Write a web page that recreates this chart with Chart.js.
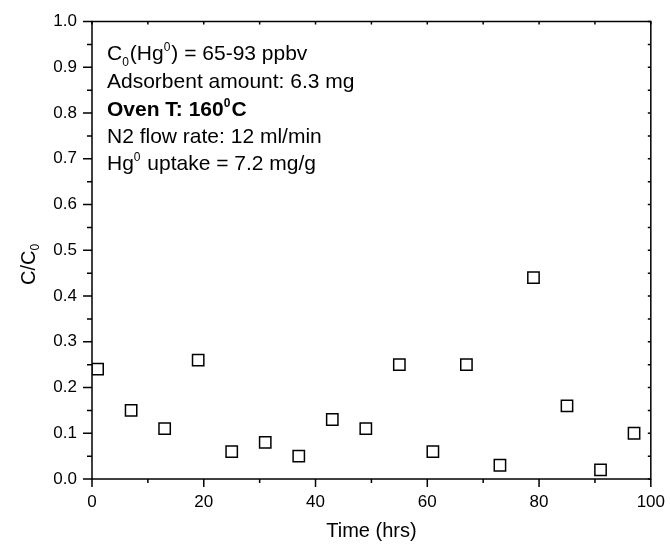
<!DOCTYPE html>
<html><head><meta charset="utf-8">
<script src="https://cdn.jsdelivr.net/npm/chart.js@4/dist/chart.umd.min.js"></script>
<style>html,body{margin:0;padding:0;background:#fff}</style>
</head><body>
<canvas id="c" width="670" height="545"></canvas>
<script>
// ---- data ----
const timeHrs  = [1, 7, 13, 19, 25, 31, 37, 43, 49, 55, 61, 67, 73, 79, 85, 91, 97];
const ratioCC0 = [0.24, 0.15, 0.11, 0.26, 0.06, 0.08, 0.05, 0.13, 0.11, 0.25, 0.06, 0.25, 0.03, 0.44, 0.16, 0.02, 0.10];
const xRange = [0, 100];
const yRange = [0, 1.0];
const xMajorStep = 20, xMinorStep = 10;
const yMajorStep = 0.1, yMinorStep = 0.05;
const xTitle = 'Time (hrs)';
const yTitle = ['C/C', '0'];
// annotation text: [text, kind] kind: n normal, sub, sup ; bold flag per line
const annotationLines = [
  {bold:false, parts:[['C','n'],['0','sub'],['(Hg','n'],['0','sup'],[') = 65-93 ppbv','n']]},
  {bold:false, parts:[['Adsorbent amount: 6.3 mg','n']]},
  {bold:true,  parts:[['Oven T: 160','n'],['0','sup'],['C','n']]},
  {bold:false, parts:[['N2 flow rate: 12 ml/min','n']]},
  {bold:false, parts:[['Hg','n'],['0','sup'],[' uptake = 7.2 mg/g','n']]}
];

const FONT = '"Liberation Sans", Arial, Helvetica, sans-serif';

const framePlugin = {
  id: 'frame',
  afterDraw(chart) {
    const ctx = chart.ctx;
    const {left, right, top, bottom} = chart.chartArea;
    const xs = chart.scales.x, ys = chart.scales.y;
    ctx.save();
    ctx.strokeStyle = '#000';
    ctx.lineWidth = 1.5;
    ctx.strokeRect(left, top, right - left, bottom - top);
    ctx.beginPath();
    // x ticks
    for (let v = xRange[0]; v <= xRange[1] + 1e-9; v += xMinorStep) {
      const px = xs.getPixelForValue(v);
      const major = Math.abs(v / xMajorStep - Math.round(v / xMajorStep)) < 1e-6;
      const len = major ? 8 : 4;
      ctx.moveTo(px, bottom); ctx.lineTo(px, bottom + len);
      ctx.moveTo(px, top); ctx.lineTo(px, top + 3);
    }
    // y ticks
    for (let i = 0; i <= Math.round((yRange[1] - yRange[0]) / yMinorStep); i++) {
      const v = yRange[0] + i * yMinorStep;
      const py = ys.getPixelForValue(v);
      const major = i % 2 === 0;
      const len = major ? 9 : 5;
      ctx.moveTo(left, py); ctx.lineTo(left - len, py);
      ctx.moveTo(right, py); ctx.lineTo(right - 3, py);
    }
    ctx.stroke();

    // y title with subscript
    ctx.fillStyle = '#000';
    ctx.translate(35, 285);
    ctx.rotate(-Math.PI / 2);
    ctx.textBaseline = 'alphabetic';
    ctx.textAlign = 'left';
    ctx.font = '20px ' + FONT;
    ctx.fillText(yTitle[0], 0, 0);
    const w = ctx.measureText(yTitle[0]).width;
    ctx.font = '12px ' + FONT;
    ctx.fillText(yTitle[1], w, 4);
    ctx.restore();

    // annotation block
    ctx.save();
    ctx.fillStyle = '#000';
    ctx.textBaseline = 'alphabetic';
    ctx.textAlign = 'left';
    const baselines = [60, 88, 116, 143, 170];
    annotationLines.forEach((line, li) => {
      let x = 107;
      const y = baselines[li];
      const wt = line.bold ? 'bold ' : '';
      line.parts.forEach(([t, k]) => {
        let dy = 0;
        if (k === 'n') ctx.font = wt + '21px ' + FONT;
        else { ctx.font = wt + '12px ' + FONT; dy = k === 'sub' ? 6 : -9; }
        ctx.fillText(t, x, y + dy);
        x += ctx.measureText(t).width + (k === 'n' ? 0 : 1);
      });
    });
    ctx.restore();
  }
};

new Chart(document.getElementById('c'), {
  type: 'scatter',
  data: {
    datasets: [{
      data: timeHrs.map((t, i) => ({x: t, y: ratioCC0[i]})),
      pointStyle: 'rect',
      pointRadius: 8,
      pointHoverRadius: 8,
      borderColor: '#000',
      backgroundColor: 'rgba(0,0,0,0)',
      borderWidth: 1.5,
      showLine: false
    }]
  },
  options: {
    responsive: false,
    devicePixelRatio: 1,
    animation: false,
    layout: {padding: {top: 21.5, right: 17, left: 0, bottom: 0}},
    plugins: {legend: {display: false}, tooltip: {enabled: false}},
    scales: {
      x: {
        type: 'linear', position: 'bottom',
        min: xRange[0], max: xRange[1],
        ticks: {stepSize: xMajorStep, color: '#000', font: {family: FONT, size: 17}, padding: 5, maxRotation: 0, autoSkip: false},
        grid: {display: true, drawOnChartArea: false, drawTicks: true, tickLength: 8, tickColor: 'rgba(0,0,0,0)'},
        border: {display: false},
        title: {display: true, text: xTitle, color: '#000', font: {family: FONT, size: 20}, padding: {top: 0, bottom: 2}},
        afterFit(s) { s.height = 66; }
      },
      y: {
        type: 'linear', position: 'left',
        min: yRange[0], max: yRange[1],
        ticks: {stepSize: yMajorStep, color: '#000', font: {family: FONT, size: 17}, padding: 6, callback: v => Number(v).toFixed(1)},
        grid: {display: true, drawOnChartArea: false, drawTicks: true, tickLength: 9, tickColor: 'rgba(0,0,0,0)'},
        border: {display: false},
        afterFit(s) { s.width = 92; }
      }
    }
  },
  plugins: [framePlugin]
});
</script>
</body></html>
